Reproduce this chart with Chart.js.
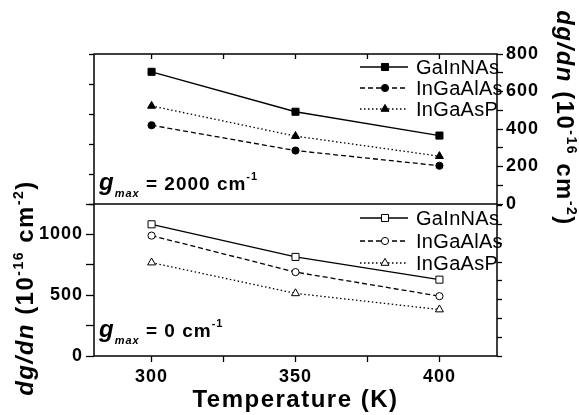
<!DOCTYPE html>
<html>
<head>
<meta charset="utf-8">
<script src="https://cdn.jsdelivr.net/npm/chart.js@4.4.1/dist/chart.umd.min.js"></script>
<style>
  html, body { margin: 0; padding: 0; background: #fff; }
</style>
</head>
<body>
<canvas id="chart" width="579" height="415"></canvas>
<script>
var temps = [300, 350, 400];
var names = ["GaInNAs", "InGaAlAs", "InGaAsP"];

// upper panel, g_max = 2000 cm-1 (right axis)
var hiGaInNAs = [705, 492, 365];
var hiInGaAlAs = [420, 285, 204];
var hiInGaAsP = [523, 362, 255];

// lower panel, g_max = 0 cm-1 (left axis)
var loGaInNAs = [1083, 815, 628];
var loInGaAlAs = [990, 690, 492];
var loInGaAsP = [768, 515, 382];

var xTicks = [300, 325, 350, 375, 400];
var xLabels = [300, 350, 400];
var rightTicks = [0, 100, 200, 300, 400, 500, 600, 700, 800];
var rightLabels = [0, 200, 400, 600, 800];
var leftTicks = [0, 250, 500, 750, 1000, 1250];
var leftLabels = [0, 500, 1000];

var FONT = "'Liberation Sans', Arial, sans-serif";

function series(label, vals, axis, style, filled, dash, panel) {
  var r = style === "rect" ? 5 : (style === "circle" ? 3.6 : 4.6);
  return {
    label: label,
    data: temps.map(function (t, i) { return { x: t, y: vals[i] }; }),
    yAxisID: axis,
    panel: panel,
    borderColor: "#000",
    borderWidth: 1.3,
    borderDash: dash,
    pointStyle: style,
    pointRadius: r,
    pointBackgroundColor: filled ? "#000" : "#fff",
    pointBorderColor: "#000",
    pointBorderWidth: 1,
    tension: 0
  };
}

var solid = [], dashed = [5, 3], dotted = [1.5, 2.5];

var datasets = [
  series(names[0], hiGaInNAs, "yR1", "rect", true, solid, 0),
  series(names[1], hiInGaAlAs, "yR1", "circle", true, dashed, 0),
  series(names[2], hiInGaAsP, "yR1", "triangle", true, dotted, 0),
  series(names[0], loGaInNAs, "yL2", "rect", false, solid, 1),
  series(names[1], loInGaAlAs, "yL2", "circle", false, dashed, 1),
  series(names[2], loInGaAsP, "yL2", "triangle", false, dotted, 1)
];

function setTicks(list) {
  return function (s) { s.ticks = list.map(function (v) { return { value: v }; }); };
}
function labelsFrom(list) {
  return function (v) { return list.indexOf(v) >= 0 ? String(v) : ""; };
}

var tickFont = { family: FONT, size: 18, weight: "bold" };
var noBorder = { display: false };

function drawRich(ctx, parts, x, y, angle, center, spacing) {
  ctx.save();
  ctx.translate(x, y);
  ctx.rotate(angle || 0);
  ctx.fillStyle = "#000";
  ctx.textBaseline = "alphabetic";
  ctx.textAlign = "left";
  if ("letterSpacing" in ctx) ctx.letterSpacing = (spacing || 0) + "px";
  var w = 0;
  parts.forEach(function (p) { ctx.font = p.f; w += ctx.measureText(p.t).width; });
  var cx = center ? -w / 2 : 0;
  parts.forEach(function (p) {
    ctx.font = p.f;
    ctx.fillText(p.t, cx, p.dy || 0);
    cx += ctx.measureText(p.t).width;
  });
  ctx.restore();
}

function titleParts() {
  return [
    { t: "dg/dn", f: "italic bold 24px " + FONT },
    { t: " (10", f: "bold 24px " + FONT },
    { t: "-16", f: "bold 14px " + FONT, dy: -10 },
    { t: " cm", f: "bold 24px " + FONT },
    { t: "-2", f: "bold 14px " + FONT, dy: -10 },
    { t: ")", f: "bold 24px " + FONT }
  ];
}

function gmaxParts(val) {
  return [
    { t: "g", f: "italic bold 24px " + FONT },
    { t: "max", f: "italic bold 11px " + FONT, dy: 7 },
    { t: " = " + val + " cm", f: "bold 19px " + FONT },
    { t: "-1", f: "bold 11px " + FONT, dy: -10 }
  ];
}

var decor = {
  id: "decor",
  beforeDraw: function (chart) {
    if ("letterSpacing" in chart.ctx) chart.ctx.letterSpacing = "1px";
  },
  afterDraw: function (chart) {
    var ctx = chart.ctx, a = chart.chartArea, s = chart.scales;
    if ("letterSpacing" in ctx) ctx.letterSpacing = "0px";

    // frame, panel divider and inward ticks on the top edge
    ctx.save();
    ctx.strokeStyle = "#000";
    ctx.lineWidth = 1.5;
    ctx.strokeRect(a.left, a.top, a.right - a.left, a.bottom - a.top);
    ctx.beginPath();
    ctx.moveTo(a.left, s.yL2.top);
    ctx.lineTo(a.right, s.yL2.top);
    ctx.stroke();
    ctx.lineWidth = 1.3;
    ctx.beginPath();
    xTicks.forEach(function (v) {
      var px = s.x.getPixelForValue(v);
      ctx.moveTo(px, a.top);
      ctx.lineTo(px, a.top + 5);
    });
    ctx.stroke();
    ctx.restore();

    // in-panel legends
    var rows = [[13, 34, 55], [14, 37, 59]];
    var panelTop = [s.yR1.top, s.yL2.top];
    var count = [0, 0];
    chart.data.datasets.forEach(function (d) {
      var p = d.panel, y = panelTop[p] + rows[p][count[p]++];
      ctx.save();
      ctx.strokeStyle = "#000";
      ctx.lineWidth = d.borderWidth;
      ctx.setLineDash(d.borderDash);
      ctx.beginPath();
      ctx.moveTo(a.right - 137, y);
      ctx.lineTo(a.right - 89, y);
      ctx.stroke();
      ctx.setLineDash([]);
      ctx.fillStyle = d.pointBackgroundColor;
      ctx.lineWidth = d.pointBorderWidth;
      Chart.helpers.drawPoint(ctx, { pointStyle: d.pointStyle, radius: d.pointRadius, rotation: 0, borderWidth: 1 }, a.right - 112, y);
      ctx.fillStyle = "#000";
      ctx.font = "20px " + FONT;
      if ("letterSpacing" in ctx) ctx.letterSpacing = "0.3px";
      ctx.textBaseline = "middle";
      ctx.textAlign = "left";
      ctx.fillText(d.label, a.right - 81, y + 1);
      ctx.restore();
    });

    // g_max annotations
    drawRich(ctx, gmaxParts("2000"), a.left + 5, s.yR1.bottom - 14, 0, false, 1);
    drawRich(ctx, gmaxParts("0"), a.left + 5, s.yL2.bottom - 19, 0, false, 1);

    // axis titles
    drawRich(ctx, titleParts(), 33, s.yL2.top + (s.yL2.bottom - s.yL2.top) / 2 + 8, -Math.PI / 2, true, 1.5);
    drawRich(ctx, titleParts(), 557, s.yR1.top + (s.yR1.bottom - s.yR1.top) / 2 - 11, Math.PI / 2, true, 1.5);
    drawRich(ctx, [{ t: "Temperature (K)", f: "bold 24px " + FONT }], (a.left + a.right) / 2, 407, 0, true, 1.5);
  }
};

new Chart(document.getElementById("chart"), {
  type: "line",
  data: { datasets: datasets },
  plugins: [decor],
  options: {
    responsive: false,
    devicePixelRatio: 1,
    animation: false,
    layout: { padding: { top: 54, left: 0, right: 0, bottom: 0 } },
    plugins: { legend: { display: false }, tooltip: { enabled: false } },
    scales: {
      x: {
        type: "linear", position: "bottom", min: 280, max: 420,
        afterBuildTicks: setTicks(xTicks),
        afterFit: function (s) { s.height = 59; },
        ticks: { callback: labelsFrom(xLabels), color: "#000", font: tickFont, padding: 4, maxRotation: 0, autoSkip: false },
        grid: { drawOnChartArea: false, tickLength: 6, tickColor: "#000", tickWidth: 1.3 },
        border: noBorder
      },
      yL1: {
        type: "linear", position: "left", stack: "L", stackWeight: 150, weight: 2,
        min: 0, max: 1250,
        afterBuildTicks: setTicks(leftTicks),
        afterFit: function (s) { s.width = 94; },
        ticks: { display: false, autoSkip: false },
        grid: { drawOnChartArea: false, tickLength: 5, tickColor: "#000", tickWidth: 1.3 },
        border: noBorder
      },
      yL2: {
        type: "linear", position: "left", stack: "L", stackWeight: 152, weight: 1,
        min: 0, max: 1250,
        afterBuildTicks: setTicks(leftTicks),
        afterFit: function (s) { s.width = 94; },
        ticks: { callback: labelsFrom(leftLabels), color: "#000", font: tickFont, padding: 3, autoSkip: false },
        grid: { drawOnChartArea: false, tickLength: 8, tickColor: "#000", tickWidth: 1.3 },
        border: noBorder
      },
      yR1: {
        type: "linear", position: "right", stack: "R", stackWeight: 150, weight: 1,
        min: 0, max: 800,
        afterBuildTicks: setTicks(rightTicks),
        afterFit: function (s) { s.width = 82; },
        ticks: { callback: labelsFrom(rightLabels), color: "#000", font: tickFont, padding: 3, autoSkip: false },
        grid: { drawOnChartArea: false, tickLength: 6, tickColor: "#000", tickWidth: 1.3 },
        border: noBorder
      },
      yR2: {
        type: "linear", position: "right", stack: "R", stackWeight: 152, weight: 2,
        min: 0, max: 810,
        afterBuildTicks: setTicks(rightTicks),
        afterFit: function (s) { s.width = 82; },
        ticks: { display: false, autoSkip: false },
        grid: { drawOnChartArea: false, tickLength: 5, tickColor: "#000", tickWidth: 1.3 },
        border: noBorder
      }
    }
  }
});
</script>
</body>
</html>
